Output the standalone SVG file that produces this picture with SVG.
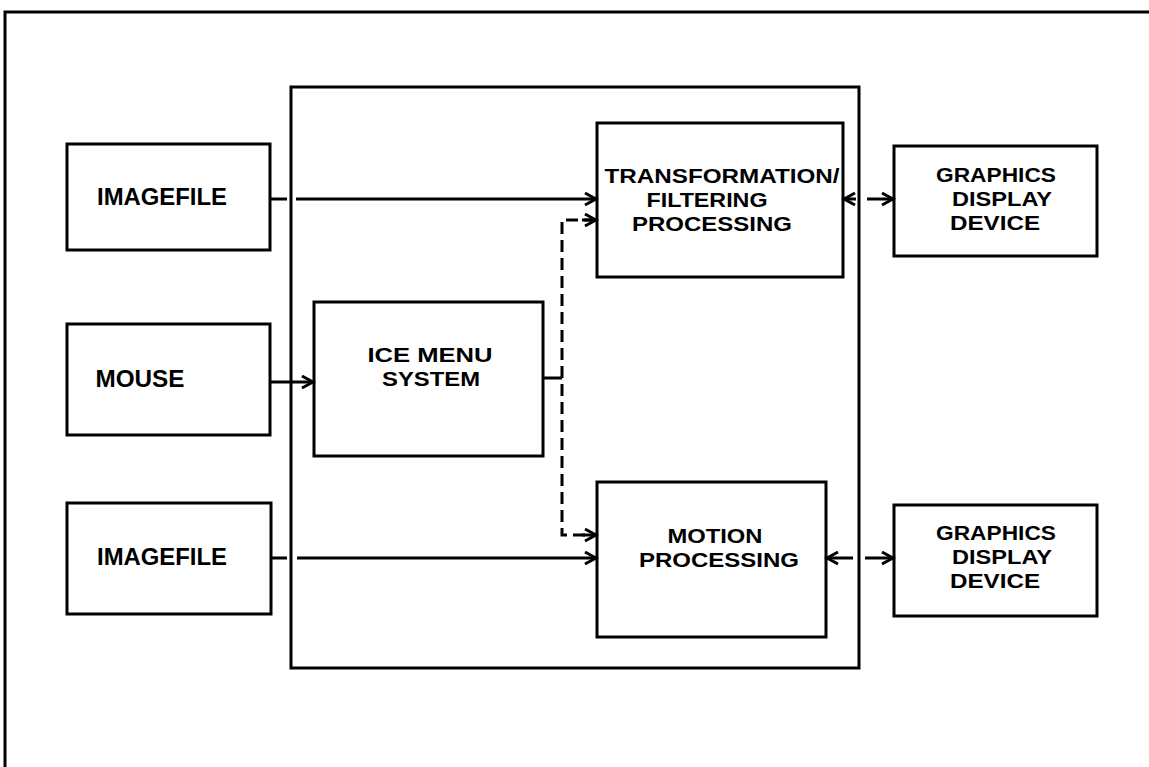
<svg xmlns="http://www.w3.org/2000/svg" width="1149" height="767" viewBox="0 0 1149 767">
<style>
.box{fill:none;stroke:#000;stroke-width:3}
.frame{fill:none;stroke:#000;stroke-width:3}
.ln{fill:none;stroke:#000;stroke-width:3}
.dash{fill:none;stroke:#000;stroke-width:3;stroke-dasharray:12 6}
text{font-family:"Liberation Sans",Arial,sans-serif;font-weight:bold;font-size:24px;fill:#000;text-anchor:middle}
text.m{font-size:21px}
</style>
<defs>
<marker id="ah" markerUnits="userSpaceOnUse" markerWidth="16" markerHeight="16" refX="13" refY="8" orient="auto">
<path d="M2,2 L13,8 L2,14" fill="none" stroke="#000" stroke-width="3"/>
</marker>
</defs>
<rect width="1149" height="767" fill="#fff"/>
<polyline class="frame" points="5,767 5,12 1149,12"/>
<g id="system">
<rect class="box" x="291" y="87" width="568" height="581"/>
</g>
<g id="imagefile1">
<rect class="box" x="67" y="144" width="203" height="106"/>
<text x="162" y="205" textLength="130" lengthAdjust="spacingAndGlyphs">IMAGEFILE</text>
</g>
<g id="mouse">
<rect class="box" x="67" y="324" width="203" height="111"/>
<text x="140" y="387" textLength="89" lengthAdjust="spacingAndGlyphs">MOUSE</text>
</g>
<g id="imagefile2">
<rect class="box" x="67" y="503" width="204" height="111"/>
<text x="162" y="565" textLength="130" lengthAdjust="spacingAndGlyphs">IMAGEFILE</text>
</g>
<g id="ice">
<rect class="box" x="314" y="302" width="229" height="154"/>
<text class="m" x="430" y="362" textLength="125" lengthAdjust="spacingAndGlyphs">ICE MENU</text>
<text class="m" x="431" y="386" textLength="98" lengthAdjust="spacingAndGlyphs">SYSTEM</text>
</g>
<g id="transformation">
<rect class="box" x="597" y="123" width="246" height="154"/>
<text class="m" x="722" y="183" textLength="235" lengthAdjust="spacingAndGlyphs">TRANSFORMATION/</text>
<text class="m" x="707" y="207" textLength="121" lengthAdjust="spacingAndGlyphs">FILTERING</text>
<text class="m" x="712" y="231" textLength="160" lengthAdjust="spacingAndGlyphs">PROCESSING</text>
</g>
<g id="motion">
<rect class="box" x="597" y="482" width="229" height="155"/>
<text class="m" x="715" y="543" textLength="95" lengthAdjust="spacingAndGlyphs">MOTION</text>
<text class="m" x="719" y="567" textLength="160" lengthAdjust="spacingAndGlyphs">PROCESSING</text>
</g>
<g id="graphics1">
<rect class="box" x="894" y="146" width="203" height="110"/>
<text class="m" x="996" y="182" textLength="120" lengthAdjust="spacingAndGlyphs">GRAPHICS</text>
<text class="m" x="1002" y="206" textLength="100" lengthAdjust="spacingAndGlyphs">DISPLAY</text>
<text class="m" x="995" y="230" textLength="90" lengthAdjust="spacingAndGlyphs">DEVICE</text>
</g>
<g id="graphics2">
<rect class="box" x="894" y="505" width="203" height="111"/>
<text class="m" x="996" y="540" textLength="120" lengthAdjust="spacingAndGlyphs">GRAPHICS</text>
<text class="m" x="1002" y="564" textLength="100" lengthAdjust="spacingAndGlyphs">DISPLAY</text>
<text class="m" x="995" y="588" textLength="90" lengthAdjust="spacingAndGlyphs">DEVICE</text>
</g>
<g id="connectors">
<line class="ln" x1="270" y1="199" x2="287" y2="199"/>
<line class="ln" x1="296" y1="199" x2="596" y2="199" marker-end="url(#ah)"/>
<line class="ln" x1="270" y1="382" x2="313" y2="382" marker-end="url(#ah)"/>
<line class="ln" x1="543" y1="378" x2="562" y2="378"/>
<polyline class="dash" points="596,220 562,220 562,535 596,535"/>
<line class="ln" x1="582" y1="220" x2="596" y2="220" marker-end="url(#ah)"/>
<line class="ln" x1="582" y1="535" x2="596" y2="535" marker-end="url(#ah)"/>
<line class="ln" x1="271" y1="558" x2="287" y2="558"/>
<line class="ln" x1="297" y1="558" x2="596" y2="558" marker-end="url(#ah)"/>
<line class="ln" x1="856" y1="199" x2="844" y2="199" marker-end="url(#ah)"/>
<line class="ln" x1="867" y1="199" x2="893" y2="199" marker-end="url(#ah)"/>
<line class="ln" x1="853" y1="558" x2="827" y2="558" marker-end="url(#ah)"/>
<line class="ln" x1="865" y1="558" x2="893" y2="558" marker-end="url(#ah)"/>
</g>
</svg>
